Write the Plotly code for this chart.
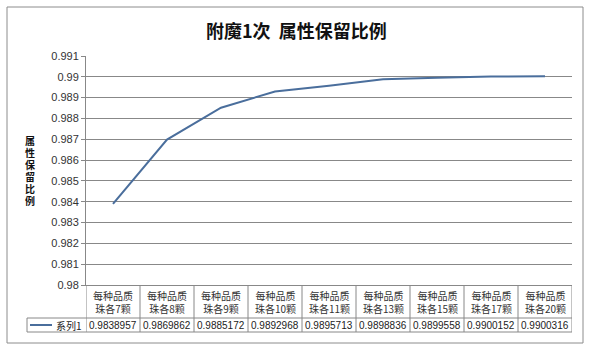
import plotly.graph_objects as go

categories = ["每种品质<br>珠各7颗", "每种品质<br>珠各8颗", "每种品质<br>珠各9颗", "每种品质<br>珠各10颗",
              "每种品质<br>珠各11颗", "每种品质<br>珠各13颗", "每种品质<br>珠各15颗", "每种品质<br>珠各17颗",
              "每种品质<br>珠各20颗"]
values = [0.9838957, 0.9869862, 0.9885172, 0.9892968, 0.9895713, 0.9898836, 0.9899558, 0.9900152, 0.9900316]
value_labels = ["0.9838957", "0.9869862", "0.9885172", "0.9892968", "0.9895713", "0.9898836", "0.9899558",
                "0.9900152", "0.9900316"]
y_ticks = [0.98, 0.981, 0.982, 0.983, 0.984, 0.985, 0.986, 0.987, 0.988, 0.989, 0.99, 0.991]
y_tick_text = ["0.98", "0.981", "0.982", "0.983", "0.984", "0.985", "0.986", "0.987", "0.988", "0.989", "0.99", "0.991"]
series_name = "系列1"
title_text = "附魔1次  属性保留比例"
y_title_chars = ["属", "性", "保", "留", "比", "例"]

W, H = 590, 351
L, R, T, B = 86, 572, 56, 285
PW, PH = R - L, B - T


def px(xp):
    return (xp - L) / PW


def py(yp):
    return (B - yp) / PH


GRID = "#888888"
LINE = "#4a6e9c"
CJK = "Noto Sans CJK SC"

x_idx = list(range(len(categories)))

fig = go.Figure()
fig.add_trace(go.Scatter(x=x_idx, y=values, mode="lines", name=series_name,
                         line=dict(color=LINE, width=2), showlegend=False))

shapes = []
shapes.append(dict(type="rect", xref="paper", yref="paper", x0=px(7), x1=px(583), y0=py(343), y1=py(7),
                   line=dict(color="#8c8c8c", width=1)))
row1_bot = 318
row2_bot = 332
shapes.append(dict(type="line", xref="paper", yref="paper", x0=px(27), x1=1, y0=py(row1_bot), y1=py(row1_bot),
                   line=dict(color=GRID, width=1)))
shapes.append(dict(type="line", xref="paper", yref="paper", x0=px(27), x1=1, y0=py(row2_bot), y1=py(row2_bot),
                   line=dict(color=GRID, width=1)))
shapes.append(dict(type="line", xref="paper", yref="paper", x0=px(27), x1=px(27), y0=py(row2_bot), y1=py(row1_bot),
                   line=dict(color=GRID, width=1)))
for k in range(len(categories) + 1):
    shapes.append(dict(type="line", xref="x", yref="paper", x0=k - 0.5, x1=k - 0.5, y0=py(row2_bot), y1=0,
                       line=dict(color=GRID, width=1)))
shapes.append(dict(type="line", xref="paper", yref="paper", x0=px(30), x1=px(52), y0=py(325), y1=py(325),
                   line=dict(color=LINE, width=2)))

annotations = []
annotations.append(dict(text="<b>" + title_text + "</b>", xref="paper", yref="paper", x=px(296), y=py(30),
                        showarrow=False, font=dict(family=CJK, size=18, color="#111111"),
                        xanchor="center", yanchor="middle"))
n = len(y_title_chars)
for j, ch in enumerate(y_title_chars):
    annotations.append(dict(text="<b>" + ch + "</b>", xref="paper", yref="paper", x=px(30),
                            y=py(170 + (j - (n - 1) / 2) * 12), showarrow=False,
                            font=dict(family=CJK, size=10, color="#111111"),
                            xanchor="center", yanchor="middle", borderpad=0))
for i, c in enumerate(categories):
    annotations.append(dict(text=c, xref="x", yref="paper", x=i, y=py(301.5), showarrow=False,
                            font=dict(family=CJK, size=10, color="#333333"), xanchor="center",
                            yanchor="middle"))
    annotations.append(dict(text=value_labels[i], xref="x", yref="paper", x=i, y=py(325), showarrow=False,
                            font=dict(family="Liberation Sans", size=10, color="#222222"), xanchor="center",
                            yanchor="middle"))
annotations.append(dict(text=series_name, xref="paper", yref="paper", x=px(54), y=py(325), showarrow=False,
                        font=dict(family=CJK, size=10, color="#222222"), xanchor="left", yanchor="middle"))

fig.update_layout(
    width=W, height=H,
    margin=dict(l=L, r=W - R, t=T, b=H - B, pad=0),
    paper_bgcolor="white", plot_bgcolor="white",
    xaxis=dict(range=[-0.5, len(categories) - 0.5], showticklabels=False, showgrid=False,
               zeroline=False, showline=True, linecolor=GRID, linewidth=1, ticks="", fixedrange=True),
    yaxis=dict(range=[0.98, 0.991], tickvals=y_ticks, ticktext=y_tick_text, showgrid=True,
               gridcolor=GRID, gridwidth=1, zeroline=False, showline=True, linecolor=GRID, linewidth=1,
               ticks="outside", ticklen=4, tickcolor=GRID,
               tickfont=dict(family="Liberation Sans", size=11, color="#333333")),
    shapes=shapes, annotations=annotations, showlegend=False,
)

fig.write_html("out.html")
